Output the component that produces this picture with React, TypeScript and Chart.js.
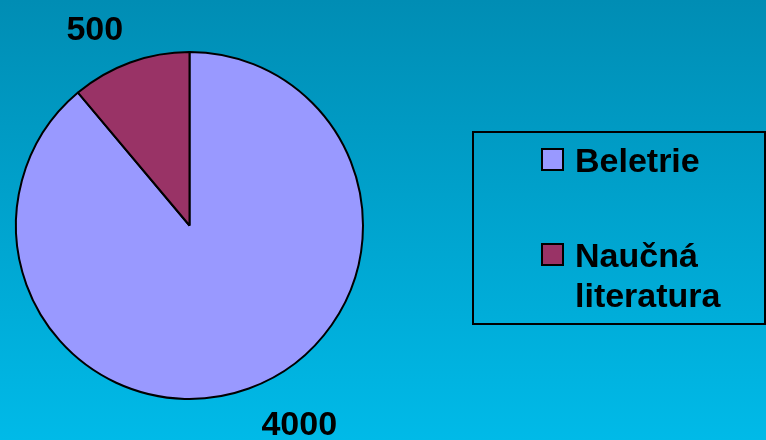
import React, { useEffect, useRef } from "react";
import { Chart, registerables } from "chart.js";

Chart.register(...registerables);

const categories: string[] = ["Beletrie", "Naučná literatura"];
const legendLines: string[][] = [["Beletrie"], ["Naučná", "literatura"]];
const values: number[] = [4000, 500];
const valueLabels: string[] = ["4000", "500"];
const sliceColors: string[] = ["#9999FF", "#993366"];

const W = 766;
const H = 440;
const FONT = "bold 34px 'Liberation Sans', Arial, Helvetica, sans-serif";
// label nudges relative to slice mid-angle anchor (layout only)
const labelNudges: [number, number][] = [
  [35, 4],
  [-20, 20],
];

export default function App() {
  const canvasRef = useRef<HTMLCanvasElement | null>(null);

  useEffect(() => {
    const canvas = canvasRef.current;
    if (!canvas) return;

    const decor = {
      id: "decor",
      beforeDraw(chart: any) {
        const ctx = chart.ctx as CanvasRenderingContext2D;
        ctx.save();
        const g = ctx.createLinearGradient(0, 0, 0, H);
        g.addColorStop(0, "#008DB4");
        g.addColorStop(1, "#00BAE8");
        ctx.fillStyle = g;
        ctx.fillRect(0, 0, W, H);
        ctx.restore();
      },
      afterDraw(chart: any) {
        const ctx = chart.ctx as CanvasRenderingContext2D;
        const meta = chart.getDatasetMeta(0);
        ctx.save();
        ctx.font = FONT;
        ctx.fillStyle = "#000000";
        ctx.textAlign = "center";
        ctx.textBaseline = "alphabetic";
        meta.data.forEach((arc: any, i: number) => {
          const p = arc.getProps(["x", "y", "startAngle", "endAngle", "outerRadius"], true);
          const mid = (p.startAngle + p.endAngle) / 2;
          const d = p.outerRadius + 45;
          const x = p.x + Math.cos(mid) * d + labelNudges[i][0];
          const y = p.y + Math.sin(mid) * d + labelNudges[i][1];
          ctx.fillText(valueLabels[i], x, y);
        });

        // legend box
        ctx.lineWidth = 2;
        ctx.strokeStyle = "#000000";
        ctx.strokeRect(473, 132, 292, 192);
        ctx.textAlign = "left";
        const itemTops = [149, 244];
        categories.forEach((_, i) => {
          const top = itemTops[i];
          ctx.fillStyle = sliceColors[i];
          ctx.fillRect(542, top, 21, 21);
          ctx.lineWidth = 2;
          ctx.strokeStyle = "#000000";
          ctx.strokeRect(542, top, 21, 21);
          ctx.fillStyle = "#000000";
          legendLines[i].forEach((line, j) => {
            ctx.fillText(line, 575, top + 23 + j * 40);
          });
        });
        ctx.restore();
      },
    };

    const chart = new Chart(canvas, {
      type: "pie",
      data: {
        labels: categories,
        datasets: [
          {
            data: values,
            backgroundColor: sliceColors,
            borderColor: "#000000",
            borderWidth: 2,
          },
        ],
      },
      options: {
        responsive: false,
        animation: false,
        layout: { padding: { left: 15, top: 51, right: 402, bottom: 40 } },
        plugins: {
          legend: { display: false },
          tooltip: { enabled: false },
        },
      },
      plugins: [decor],
    });

    return () => chart.destroy();
  }, []);

  return (
    <div style={{ position: "absolute", left: 0, top: 0, width: W, height: H }}>
      <canvas ref={canvasRef} width={W} height={H} style={{ display: "block", width: W, height: H }} />
    </div>
  );
}
